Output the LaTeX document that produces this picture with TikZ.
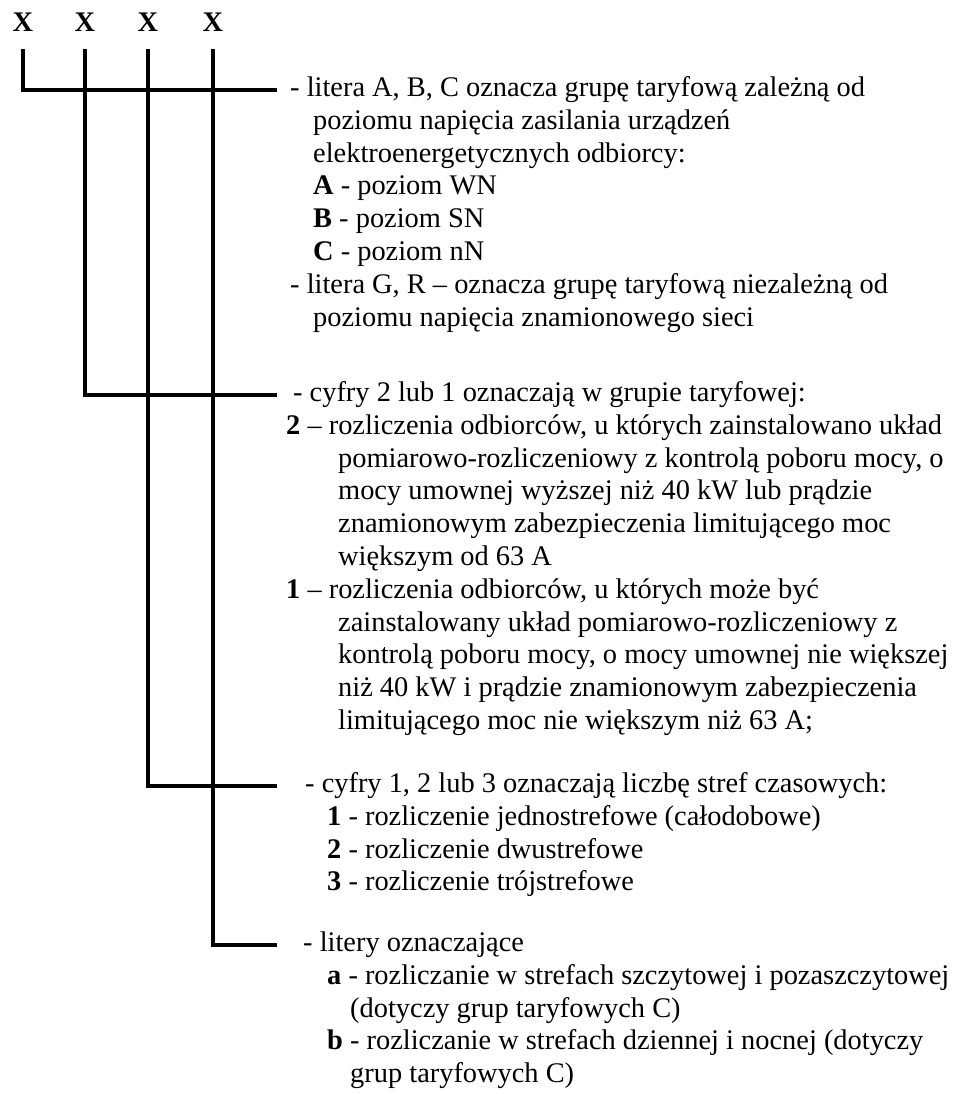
\documentclass[tikz,border=0pt]{standalone}
\usepackage{fontspec}
\setmainfont{Liberation Serif}
\usetikzlibrary{positioning}

\begin{document}
\begin{tikzpicture}[x=1pt,y=-1pt,
      code/.style={font=\fontsize{28.4}{32.8}\bfseries\selectfont,inner sep=0pt},
      desc/.style={font=\fontsize{28.4}{32.8}\selectfont,align=left,
                   anchor=base west,inner sep=0pt},
      lead/.style={line width=3.2pt}]
        \useasboundingbox (0,0) rectangle (971,1094);
        % the four code positions
        \node[code] (x1) at (23,22)  {X};
        \node[code] (x2) at (85,22)  {X};
        \node[code] (x3) at (148,22) {X};
        \node[code] (x4) at (213,22) {X};
        % ends of the leads
        \coordinate (e1) at (277,90);
        \coordinate (e2) at (277,395);
        \coordinate (e3) at (277,786);
        \coordinate (e4) at (277,945);
        % base of each block is its last line
        \node[desc] (d1) at (290,326.1)
             {- litera A, B, C oznacza grupę taryfową zależną od\\
              \hspace*{23pt}poziomu napięcia zasilania urządzeń\\
              \hspace*{23pt}elektroenergetycznych odbiorcy:\\
              \hspace*{23pt}\textbf{A} - poziom WN\\
              \hspace*{23pt}\textbf{B} - poziom SN\\
              \hspace*{23pt}\textbf{C} - poziom nN\\
              - litera G, R – oznacza grupę taryfową niezależną od\\
              \hspace*{23pt}poziomu napięcia znamionowego sieci};
        \node[desc] (d2) at (286,729.5)
             {\hspace*{7pt}- cyfry 2 lub 1 oznaczają w grupie taryfowej:\\
              \textbf{2} – rozliczenia odbiorców, u których zainstalowano układ\\
              \hspace*{52pt}pomiarowo-rozliczeniowy z kontrolą poboru mocy, o\\
              \hspace*{52pt}mocy umownej wyższej niż 40 kW lub prądzie\\
              \hspace*{52pt}znamionowym zabezpieczenia limitującego moc\\
              \hspace*{52pt}większym od 63 A\\
              \textbf{1} – rozliczenia odbiorców, u których może być\\
              \hspace*{52pt}zainstalowany układ pomiarowo-rozliczeniowy z\\
              \hspace*{52pt}kontrolą poboru mocy, o mocy umownej nie większej\\
              \hspace*{52pt}niż 40 kW i prądzie znamionowym zabezpieczenia\\
              \hspace*{52pt}limitującego moc nie większym niż 63 A;};
        \node[desc] (d3) at (305,890.9)
             {- cyfry 1, 2 lub 3 oznaczają liczbę stref czasowych:\\
              \hspace*{22pt}\textbf{1} - rozliczenie jednostrefowe (całodobowe)\\
              \hspace*{22pt}\textbf{2} - rozliczenie dwustrefowe\\
              \hspace*{22pt}\textbf{3} - rozliczenie trójstrefowe};
        \node[desc] (d4) at (303,1082.7)
             {- litery oznaczające\\
              \hspace*{24pt}\textbf{a} - rozliczanie w strefach szczytowej i pozaszczytowej\\
              \hspace*{47pt}(dotyczy grup taryfowych C)\\
              \hspace*{24pt}\textbf{b} - rozliczanie w strefach dziennej i nocnej (dotyczy\\
              \hspace*{47pt}grup taryfowych C)};
        % leads from each position to its description
        \draw[lead] ([yshift=-18pt]x1.south) |- (e1);
        \draw[lead] ([yshift=-18pt]x2.south) |- (e2);
        \draw[lead] ([yshift=-18pt]x3.south) |- (e3);
        \draw[lead] ([yshift=-18pt]x4.south) |- (e4);
\end{tikzpicture}
\end{document}
